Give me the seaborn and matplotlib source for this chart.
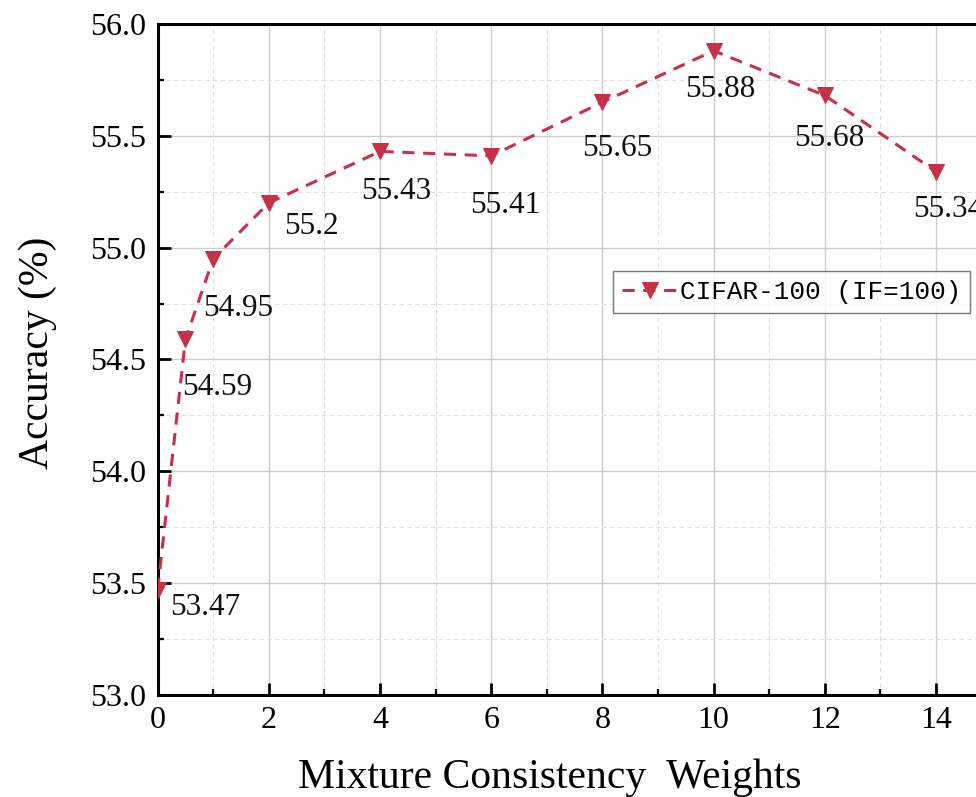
import matplotlib
matplotlib.use("Agg")
import matplotlib.pyplot as plt
import seaborn as sns
import pandas as pd
from matplotlib.ticker import MultipleLocator

weights = [0, 0.5, 1, 2, 4, 6, 8, 10, 12, 14]
accuracy = [53.47, 54.59, 54.95, 55.2, 55.43, 55.41, 55.65, 55.88, 55.68, 55.34]
labels = ["53.47", "54.59", "54.95", "55.2", "55.43", "55.41", "55.65", "55.88", "55.68", "55.34"]
# label offsets in points (dx, dy)
offsets = [(34, -13), (23, -35), (18, -36), (31, -17), (12, -29), (10, -36), (11, -33), (5, -28), (3, -31), (9, -27)]
series_name = "CIFAR-100 (IF=100)"

df = pd.DataFrame({"w": weights, "acc": accuracy})

sns.set_style("white")
plt.rcParams["font.family"] = ["Liberation Serif", "DejaVu Serif"]
plt.rcParams["text.color"] = "black"
plt.rcParams["axes.labelcolor"] = "black"
plt.rcParams["xtick.color"] = "black"
plt.rcParams["ytick.color"] = "black"

fig = plt.figure(figsize=(9.76, 7.97), dpi=100)
ax = fig.add_axes([0.1615, 0.128, 0.8545, 0.842])

color = "#C8304A"
sns.lineplot(data=df, x="w", y="acc", ax=ax, color=color, marker="v", markersize=11,
             markeredgecolor=color, linestyle=(0, (4, 2.8)), linewidth=2.2, label=series_name, zorder=3)

for x, y, t, (dx, dy) in zip(weights, accuracy, labels, offsets):
    ax.annotate(t, (x, y), xytext=(dx, dy), textcoords="offset points", ha="center", va="center",
                fontsize=22.5, color="#111111")

ax.set_xlim(0, 15)
ax.set_ylim(53.0, 56.0)
ax.xaxis.set_major_locator(MultipleLocator(2))
ax.xaxis.set_minor_locator(MultipleLocator(1))
ax.yaxis.set_major_locator(MultipleLocator(0.5))
ax.yaxis.set_minor_locator(MultipleLocator(0.25))
ax.set_xticks([0, 2, 4, 6, 8, 10, 12, 14])
ax.set_yticks([53.0, 53.5, 54.0, 54.5, 55.0, 55.5, 56.0])
ax.set_yticklabels([f"{v:.1f}" for v in [53.0, 53.5, 54.0, 54.5, 55.0, 55.5, 56.0]])

ax.grid(which="major", color="#CCCCCC", linewidth=1.0, linestyle="-")
ax.grid(which="minor", color="#DDDDDD", linewidth=0.8, linestyle=(0, (4, 3)))
ax.set_axisbelow(True)

for s in ax.spines.values():
    s.set_linewidth(2.2)
    s.set_color("black")
ax.tick_params(which="major", direction="in", length=9, width=2, labelsize=23, pad=8, colors="black",
               top=False, right=False, left=True, bottom=True)
ax.tick_params(which="minor", direction="in", length=4, width=1.6, colors="black",
               top=False, right=False, left=True, bottom=True)

ax.set_xlabel("Mixture Consistency  Weights", fontsize=30, labelpad=17, color="black")
ax.set_ylabel("Accuracy (%)", fontsize=30, labelpad=24, color="black")
ax.xaxis.label.set_x(0.4706)
ax.yaxis.label.set_y(0.51)

leg = ax.legend(loc="upper left", bbox_to_anchor=(0.5465, 0.632), frameon=True, fancybox=False,
                prop={"family": ["Liberation Mono", "DejaVu Sans Mono"], "size": 18.7},
                handlelength=2.1, borderpad=0.35, handletextpad=0.1, borderaxespad=0)
leg.get_frame().set_edgecolor("#555555")
leg.get_frame().set_linewidth(1.0)
for txt in leg.get_texts():
    txt.set_color("black")

fig.savefig("out.png", dpi=100)
